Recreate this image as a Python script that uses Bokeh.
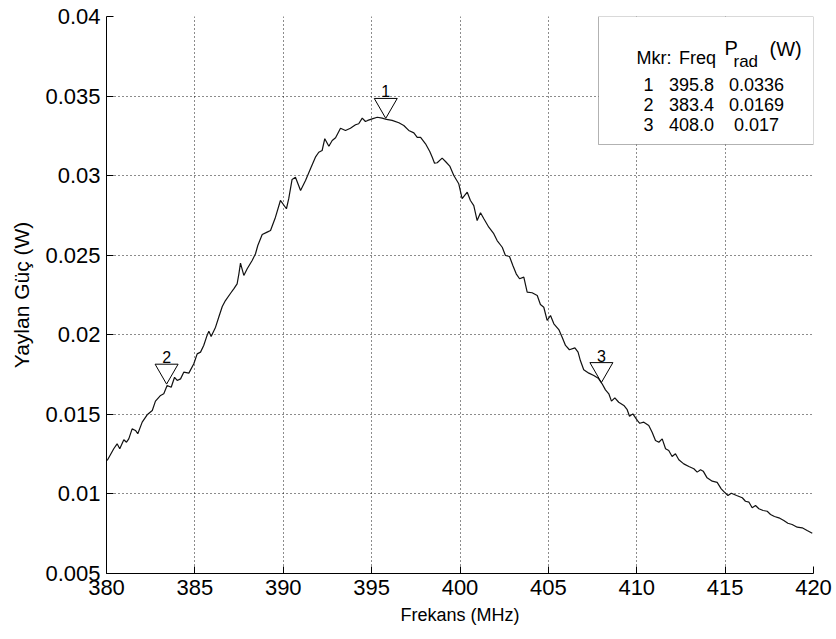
from bokeh.plotting import figure
from bokeh.models import Range1d, FixedTicker, NumeralTickFormatter, BoxAnnotation, Label
from bokeh.core.properties import value
from bokeh.embed import file_html
from bokeh.resources import INLINE

freq_mhz = [
    380.04, 380.41, 380.60, 380.75, 380.98, 381.13, 381.26, 381.45, 381.64, 381.77,
    382.02, 382.30, 382.59, 382.77, 383.06, 383.24, 383.43, 383.66, 383.85, 384.00,
    384.19, 384.37, 384.66, 384.94, 385.13, 385.32, 385.50, 385.69, 385.79, 385.92,
    386.17, 386.35, 386.55, 386.73, 387.02, 387.20, 387.39, 387.49, 387.58, 387.77,
    387.96, 388.24, 388.43, 388.56, 388.81, 389.09, 389.28, 389.56, 389.84, 390.18,
    390.31, 390.50, 390.69, 390.98, 391.26, 391.54, 391.82, 392.01, 392.20, 392.35,
    392.58, 392.77, 392.96, 393.24, 393.52, 393.80, 394.09, 394.27, 394.47, 394.65,
    394.78, 395.03, 395.32, 395.60, 395.84, 396.16, 396.54, 396.82, 397.10, 397.39,
    397.58, 397.77, 398.05, 398.29, 398.43, 398.56, 398.71, 398.99, 399.18, 399.42,
    399.65, 399.93, 400.12, 400.41, 400.59, 400.78, 400.97, 401.16, 401.35, 401.63,
    401.91, 402.10, 402.39, 402.57, 402.80, 402.99, 403.18, 403.37, 403.61, 403.80,
    404.08, 404.37, 404.55, 404.74, 404.93, 405.12, 405.31, 405.59, 405.78, 405.97,
    406.19, 406.50, 406.68, 406.81, 407.00, 407.29, 407.57, 407.82, 408.04, 408.23,
    408.42, 408.57, 408.76, 408.98, 409.27, 409.46, 409.59, 409.78, 410.03, 410.17,
    410.40, 410.68, 410.87, 411.06, 411.25, 411.44, 411.63, 411.81, 412.00, 412.19,
    412.38, 412.66, 412.95, 413.23, 413.42, 413.61, 413.76, 413.98, 414.27, 414.55,
    414.78, 414.97, 415.16, 415.35, 415.65, 415.97, 416.15, 416.35, 416.53, 416.72,
    416.91, 417.15, 417.38, 417.57, 417.79, 418.04, 418.32, 418.55, 418.79, 419.08,
    419.36, 419.64, 419.93,
]
p_rad_w = [
    0.01210, 0.01284, 0.01315, 0.01284, 0.01340, 0.01325, 0.01346, 0.01409, 0.01399, 0.01378,
    0.01451, 0.01497, 0.01524, 0.01583, 0.01619, 0.01629, 0.01681, 0.01670, 0.01733, 0.01713,
    0.01723, 0.01765, 0.01759, 0.01818, 0.01880, 0.01891, 0.01933, 0.01996, 0.02023, 0.01989,
    0.02048, 0.02110, 0.02178, 0.02215, 0.02261, 0.02289, 0.02320, 0.02383, 0.02450, 0.02373,
    0.02415, 0.02467, 0.02509, 0.02561, 0.02630, 0.02645, 0.02655, 0.02739, 0.02844, 0.02792,
    0.02855, 0.02976, 0.02990, 0.02907, 0.02970, 0.03043, 0.03116, 0.03147, 0.03158, 0.03232,
    0.03185, 0.03221, 0.03238, 0.03298, 0.03284, 0.03298, 0.03320, 0.03326, 0.03361, 0.03340,
    0.03347, 0.03357, 0.03367, 0.03361, 0.03353, 0.03347, 0.03332, 0.03315, 0.03284, 0.03269,
    0.03241, 0.03241, 0.03200, 0.03152, 0.03116, 0.03078, 0.03081, 0.03110, 0.03089, 0.03060,
    0.03001, 0.02949, 0.02855, 0.02896, 0.02844, 0.02812, 0.02718, 0.02767, 0.02729, 0.02676,
    0.02635, 0.02592, 0.02550, 0.02498, 0.02492, 0.02435, 0.02383, 0.02352, 0.02362, 0.02268,
    0.02264, 0.02247, 0.02190, 0.02173, 0.02090, 0.02121, 0.02069, 0.02033, 0.01985, 0.01933,
    0.01906, 0.01918, 0.01891, 0.01838, 0.01780, 0.01759, 0.01744, 0.01727, 0.01692, 0.01654,
    0.01629, 0.01583, 0.01604, 0.01576, 0.01556, 0.01529, 0.01488, 0.01503, 0.01462, 0.01444,
    0.01451, 0.01430, 0.01388, 0.01336, 0.01325, 0.01346, 0.01284, 0.01273, 0.01235, 0.01252,
    0.01215, 0.01189, 0.01172, 0.01158, 0.01137, 0.01152, 0.01143, 0.01101, 0.01080, 0.01073,
    0.01032, 0.01010, 0.00990, 0.01004, 0.00990, 0.00976, 0.00954, 0.00948, 0.00913, 0.00927,
    0.00907, 0.00896, 0.00891, 0.00871, 0.00858, 0.00850, 0.00833, 0.00816, 0.00808, 0.00791,
    0.00787, 0.00770, 0.00753,
]

marker_ids = ["1", "2", "3"]
marker_freq = [395.8, 383.4, 408.0]
marker_power = [0.0336, 0.0169, 0.017]

x_ticks = [380, 385, 390, 395, 400, 405, 410, 415, 420]
y_ticks = [0.005, 0.01, 0.015, 0.02, 0.025, 0.03, 0.035, 0.04]
x_label = "Frekans (MHz)"
y_label = "Yaylan Güç (W)"
legend_header = ["Mkr:", "Freq"]

FONT = "Liberation Sans"
W, H = 836, 639
L, R, T, B = 106, 23, 16, 66
FW, FH = W - L - R, H - T - B
X0, X1 = 380, 420
Y0, Y1 = 0.005, 0.04


def px2x(px):
    return X0 + (px - L) * (X1 - X0) / FW


def py2y(py):
    return Y0 + (T + FH - py) * (Y1 - Y0) / FH


p = figure(width=W, height=H, x_range=Range1d(X0, X1), y_range=Range1d(Y0, Y1),
           output_backend="svg", toolbar_location=None,
           min_border_left=L, min_border_right=R, min_border_top=T, min_border_bottom=B)
p.outline_line_color = None
p.background_fill_color = "white"
p.border_fill_color = "white"

p.xaxis.ticker = FixedTicker(ticks=x_ticks)
p.yaxis.ticker = FixedTicker(ticks=y_ticks)
p.yaxis.formatter = NumeralTickFormatter(format="0.[000]")
for ax in (p.xaxis[0], p.yaxis[0]):
    ax.axis_line_color = "black"
    ax.axis_line_width = 1
    ax.major_tick_in = 7
    ax.major_tick_out = 0
    ax.minor_tick_in = 0
    ax.minor_tick_out = 0
    ax.major_tick_line_color = "black"
    ax.major_label_text_font = FONT
    ax.major_label_text_font_size = "22px"
    ax.major_label_text_color = "black"
    ax.major_label_standoff = 6
    ax.axis_label_text_font = FONT
    ax.axis_label_text_font_style = "normal"
    ax.axis_label_text_color = "black"
p.xaxis.axis_label = x_label
p.yaxis.axis_label = y_label
p.xaxis.axis_label_text_font_size = "18px"
p.yaxis.axis_label_text_font_size = "21px"
p.xaxis.axis_label_standoff = 7
p.yaxis.axis_label_standoff = 9

p.grid.grid_line_color = "black"
p.grid.grid_line_alpha = 0.9
p.grid.grid_line_dash = "1 3"
p.grid.grid_line_width = 1

p.line(freq_mhz, p_rad_w, line_color="#111111", line_width=1.2)

tri_size = 23
tip = (tri_size / 2) * (3 ** 0.5) * 2 / 3
dy = tip * (Y1 - Y0) / FH
p.scatter(x=marker_freq, y=[v + dy for v in marker_power], marker="inverted_triangle",
          size=tri_size, fill_color=None, line_color="black", line_width=1)
p.text(x=marker_freq, y=marker_power, text=marker_ids, y_offset=-27,
       text_align="center", text_baseline="alphabetic",
       text_font=value(FONT), text_font_size="16px", text_color="black")

# marker table box
p.add_layout(BoxAnnotation(left=px2x(598), right=X1, top=Y1, bottom=py2y(144),
                           fill_color="white", fill_alpha=1.0,
                           line_color="black", line_width=1, level="annotation"))


def lab(px, py, text, size, align="center"):
    p.add_layout(Label(x=px2x(px), y=py2y(py), text=text, text_align=align,
                       text_baseline="alphabetic", text_font=FONT,
                       text_font_size=size, text_color="black"))


lab(653.5, 57.3, legend_header[0], "18px")
lab(697, 57.3, legend_header[1], "18px")
lab(724, 47, "P", "20px", "left")
lab(733, 61, "rad", "17px", "left")
lab(769, 48, "(W)", "20px", "left")
row_base = [83.5, 104, 124]
for i in range(3):
    lab(648, row_base[i], marker_ids[i], "18px")
    lab(691, row_base[i], f"{marker_freq[i]:.1f}", "18px")
    lab(756, row_base[i], str(marker_power[i]), "18px")

open("out.html", "w").write(file_html(p, INLINE))
